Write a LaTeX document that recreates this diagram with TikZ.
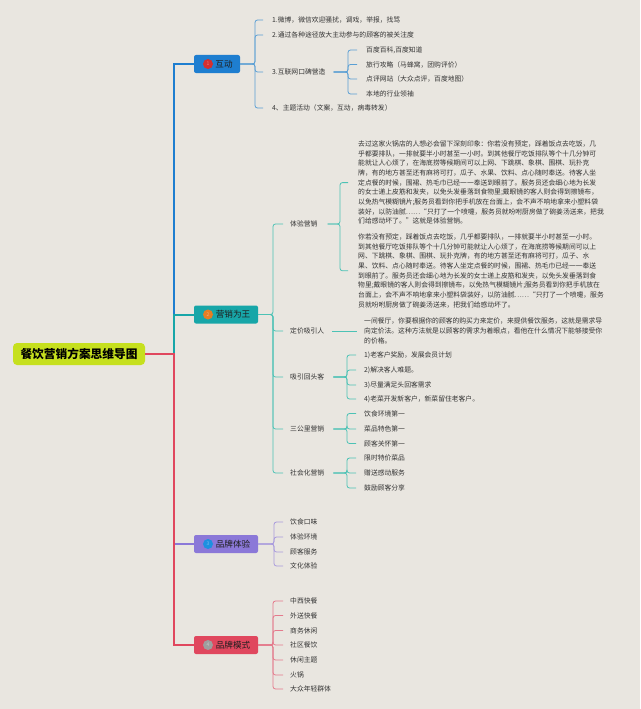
\documentclass[tikz,border=0pt]{standalone}
\usepackage{fontspec}
\setmainfont{Noto Sans CJK SC}
\definecolor{bgc}{HTML}{E9E6E0}
\definecolor{rootc}{HTML}{C6E01E}
\definecolor{cA}{HTML}{1E7ED0}
\definecolor{cB}{HTML}{17A6A8}
\definecolor{cC}{HTML}{8B78D8}
\definecolor{cD}{HTML}{E0475E}
\definecolor{lA}{HTML}{5A9FD4}
\definecolor{lB}{HTML}{4CC2B5}
\definecolor{lC}{HTML}{A99BDD}
\definecolor{lD}{HTML}{E47A8C}
\definecolor{iA}{HTML}{D32F2F}
\definecolor{iB}{HTML}{E67E22}
\definecolor{iC}{HTML}{1E90E0}
\definecolor{iD}{HTML}{9E9E9E}
\definecolor{txtc}{HTML}{333333}
\begin{document}
\begin{tikzpicture}[x=1pt,y=-1pt,
  every node/.style={inner sep=0pt},
  txt/.style={font=\fontsize{6.8}{9.65}\selectfont, text=txtc, anchor=west, align=left},
  mbox/.style={rounded corners=2pt, minimum width=64pt, minimum height=18pt},
  btxt/.style={font=\fontsize{8.6}{10}\selectfont, text=black!88},
  ico/.style={circle, minimum size=10pt, font=\fontsize{5}{5}\selectfont},
  brA/.style={draw=lA, line width=0.8pt, rounded corners=2.5pt},
  brB/.style={draw=lB, line width=0.8pt, rounded corners=2.5pt},
  brC/.style={draw=lC, line width=0.8pt, rounded corners=2.5pt},
  brD/.style={draw=lD, line width=0.8pt, rounded corners=2.5pt}]
\useasboundingbox (0,0) rectangle (640,709);
\fill[bgc] (0,0) rectangle (640,709);

% root
\node[fill=rootc, rounded corners=4pt, minimum width=132pt, minimum height=22pt,
      font=\fontsize{11.7}{13}\selectfont\bfseries] (root) at (79,354) {餐饮营销方案思维导图};
\coordinate (tr) at (174,354);

% main boxes
\node[mbox, fill=cA, minimum width=46pt] (m1) at (217,64) {};
\node[ico, fill=iA, text=iA!60!white] (m1i) at (208,64) {1};
\node[btxt] (m1t) at (224,64) {互动};

\node[mbox, fill=cB] (m2) at (226,314.5) {};
\node[ico, fill=iB, text=iB!60!white] (m2i) at (208,314.5) {2};
\node[btxt] (m2t) at (233,314.5) {营销为王};

\node[mbox, fill=cC] (m3) at (226,544) {};
\node[ico, fill=iC, text=iC!60!white] (m3i) at (208,544) {3};
\node[btxt] (m3t) at (233,544) {品牌体验};

\node[mbox, fill=cD] (m4) at (226,645) {};
\node[ico, fill=iD, text=iD!60!white] (m4i) at (208,645) {4};
\node[btxt] (m4t) at (233,645) {品牌模式};

% trunk
\draw[cA, line width=2.6pt] (root.east) -- (tr) |- (m1.west);
\draw[cB, line width=2pt] (root.east) -- (tr) |- (m2.west);
\draw[cC, line width=1.8pt] (root.east) -- (tr) |- (m3.west);
\draw[cD, line width=2pt] (root.east) -- (tr) |- (m4.west);

% ---------- branch 1
\coordinate (b1) at (255,0);
\node[txt] (a1) at (272,20) {1.微博，微信欢迎骚扰，调戏，举报，找骂};
\node[txt] (a2) at (272,35) {2.通过各种途径放大主动参与的顾客的被关注度};
\node[txt] (a3) at (272,72) {3.互联网口碑营造};
\node[txt] (a4) at (272,108) {4、主题活动（文案，互动，病毒转发）};
\foreach \n in {a1,a2,a3,a4}
  \draw[brA] (m1.east) -- (m1.east -| b1) |- ([xshift=-9pt]\n.west);

\coordinate (b13) at (348,0);
\node[txt] (a31) at (366,50) {百度百科,百度知道};
\node[txt] (a32) at (366,64.5) {旅行攻略（马蜂窝，团购评价）};
\node[txt] (a33) at (366,79) {点评网站（大众点评，百度地图）};
\node[txt] (a34) at (366,94) {本地的行业领袖};
\foreach \n in {a31,a32,a33,a34}
  \draw[brA] ([xshift=8pt]a3.east) -- (a3.east -| b13) |- ([xshift=-9pt]\n.west);

% ---------- branch 2
\coordinate (b2) at (273,0);
\node[txt] (s1) at (290,224) {体验营销};
\node[txt] (s2) at (290,331) {定价吸引人};
\node[txt] (s3) at (290,377) {吸引回头客};
\node[txt] (s4) at (290,429) {三公里营销};
\node[txt] (s5) at (290,473) {社会化营销};
\foreach \n in {s1,s2,s3,s4,s5}
  \draw[brB] (m2.east) -- (m2.east -| b2) |- ([xshift=-7pt]\n.west);

% 体验营销 paragraphs
\coordinate (b21) at (340,0);
\node[txt] (p1) at (358,182.6) {去过这家火锅店的人想必会留下深刻印象：你若没有预定，踩着饭点去吃饭，几\\
乎都要排队，一排就要半小时甚至一小时。到其他餐厅吃饭排队等个十几分钟可\\
能就让人心烦了，在海底捞等候期间可以上网、下跳棋、象棋、围棋、玩扑克\\
牌，有的地方甚至还有麻将可打，瓜子、水果、饮料、点心随时奉送。待客人坐\\
定点餐的时候，围裙、热毛巾已经一一奉送到眼前了。服务员还会细心地为长发\\
的女士递上皮筋和发夹，以免头发垂落到食物里;戴眼镜的客人则会得到擦镜布，\\
以免热气模糊镜片;服务员看到你把手机放在台面上，会不声不响地拿来小塑料袋\\
装好，以防油腻……“只打了一个喷嚏，服务员就吩咐厨房做了碗姜汤送来，把我\\
们给感动坏了。”这就是体验营销。};
\node[txt] (p2) at (358,270.8) {你若没有预定，踩着饭点去吃饭，几乎都要排队，一排就要半小时甚至一小时。\\
到其他餐厅吃饭排队等个十几分钟可能就让人心烦了，在海底捞等候期间可以上\\
网、下跳棋、象棋、围棋、玩扑克牌，有的地方甚至还有麻将可打，瓜子、水\\
果、饮料、点心随时奉送。待客人坐定点餐的时候，围裙、热毛巾已经一一奉送\\
到眼前了。服务员还会细心地为长发的女士递上皮筋和发夹，以免头发垂落到食\\
物里;戴眼镜的客人则会得到擦镜布，以免热气模糊镜片;服务员看到你把手机放在\\
台面上，会不声不响地拿来小塑料袋装好，以防油腻……“只打了一个喷嚏，服务\\
员就吩咐厨房做了碗姜汤送来，把我们给感动坏了。};
\foreach \n in {p1,p2}
  \draw[brB] ([xshift=10pt]s1.east) -- (s1.east -| b21) |- ([xshift=-10pt]\n.west);

% 定价吸引人
\node[txt] (p3) at (364,331) {一间餐厅，你要根据你的顾客的购买力来定价，来提供餐饮服务，这就是需求导\\
向定价法。这种方法就是以顾客的需求为着眼点，看他在什么情况下能够接受你\\
的价格。};
\draw[brB, shorten <=8pt, shorten >=7pt] (s2.east) -- (s2.east -| p3.west);

% 吸引回头客
\coordinate (b23) at (347,0);
\node[txt] (r1) at (364,355) {1)老客户奖励，发展会员计划};
\node[txt] (r2) at (364,370) {2)解决客人难题。};
\node[txt] (r3) at (364,385) {3)尽量满足头回客需求};
\node[txt] (r4) at (364,399) {4)老菜开发新客户，新菜留住老客户。};
\foreach \n in {r1,r2,r3,r4}
  \draw[brB] ([xshift=9pt]s3.east) -- (s3.east -| b23) |- ([xshift=-8pt]\n.west);

% 三公里营销
\node[txt] (t1) at (364,413.5) {饮食环境第一};
\node[txt] (t2) at (364,429) {菜品特色第一};
\node[txt] (t3) at (364,443.5) {顾客关怀第一};
\foreach \n in {t1,t2,t3}
  \draw[brB] ([xshift=9pt]s4.east) -- (s4.east -| b23) |- ([xshift=-8pt]\n.west);

% 社会化营销
\node[txt] (u1) at (364,458) {限时特价菜品};
\node[txt] (u2) at (364,473) {赠送感动服务};
\node[txt] (u3) at (364,488) {鼓励顾客分享};
\foreach \n in {u1,u2,u3}
  \draw[brB] ([xshift=9pt]s5.east) -- (s5.east -| b23) |- ([xshift=-8pt]\n.west);

% ---------- branch 3
\coordinate (b3) at (274,0);
\node[txt] (v1) at (290,522) {饮食口味};
\node[txt] (v2) at (290,537) {体验环境};
\node[txt] (v3) at (290,552) {顾客服务};
\node[txt] (v4) at (290,566) {文化体验};
\foreach \n in {v1,v2,v3,v4}
  \draw[brC] (m3.east) -- (m3.east -| b3) |- ([xshift=-7pt]\n.west);

% ---------- branch 4
\coordinate (b4) at (273,0);
\node[txt] (w1) at (290,601) {中西快餐};
\node[txt] (w2) at (290,615.5) {外送快餐};
\node[txt] (w3) at (290,630.5) {商务休闲};
\node[txt] (w4) at (290,645) {社区餐饮};
\node[txt] (w5) at (290,660) {休闲主题};
\node[txt] (w6) at (290,675) {火锅};
\node[txt] (w7) at (290,689) {大众年轻群体};
\foreach \n in {w1,w2,w3,w4,w5,w6,w7}
  \draw[brD] (m4.east) -- (m4.east -| b4) |- ([xshift=-7pt]\n.west);
\end{tikzpicture}
\end{document}
